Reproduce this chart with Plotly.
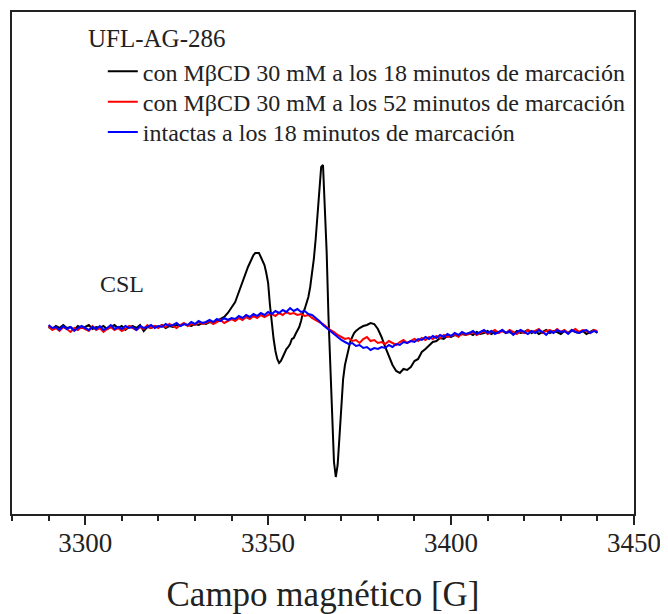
import plotly.graph_objects as go

# ---- data (arbitrary intensity units) ----
series_names = [
    "con MβCD 30 mM a los 18 minutos de marcación",
    "con MβCD 30 mM a los 52 minutos de marcación",
    "intactas a los 18 minutos de marcación",
]

black_field = [
    3290, 3291, 3292, 3293, 3294, 3295, 3296, 3297, 3298, 3299,
    3300, 3301, 3302, 3303, 3304, 3305, 3306, 3307, 3308, 3309,
    3310, 3311, 3312, 3313, 3314, 3315, 3316, 3317, 3318, 3319,
    3320, 3321, 3322, 3323, 3324, 3325, 3326, 3327, 3328, 3329,
    3330, 3331, 3332, 3333, 3334, 3335, 3336, 3337, 3338, 3339,
    3340, 3340.5, 3341, 3341.5, 3342, 3342.5, 3343, 3343.5, 3344, 3344.5,
    3345, 3345.5, 3346, 3346.5, 3347, 3347.5, 3348, 3348.5, 3349, 3349.5,
    3350, 3350.5, 3351, 3351.5, 3352, 3352.5, 3353, 3353.5, 3354, 3354.5,
    3355, 3355.5, 3356, 3356.5, 3357, 3357.5, 3358, 3358.5, 3359, 3359.5,
    3360, 3360.5, 3361, 3361.5, 3362, 3362.5, 3363, 3363.5, 3364, 3364.5,
    3365, 3365.5, 3366, 3366.5, 3367, 3367.5, 3368, 3368.5, 3369, 3369.5,
    3370, 3370.5, 3371, 3371.5, 3372, 3372.5, 3373, 3373.5, 3374, 3375,
    3376, 3377, 3378, 3379, 3380, 3381, 3382, 3383, 3384, 3385,
    3386, 3387, 3388, 3389, 3390, 3391, 3392, 3393, 3394, 3395,
    3396, 3397, 3398, 3399, 3400, 3401, 3402, 3403, 3404, 3405,
    3406, 3407, 3408, 3409, 3410, 3411, 3412, 3413, 3414, 3415,
    3416, 3417, 3418, 3419, 3420, 3421, 3422, 3423, 3424, 3425,
    3426, 3427, 3428, 3429, 3430, 3431, 3432, 3433, 3434, 3435,
    3436, 3437, 3438, 3439, 3440,
]
black_signal = [
    0, -2, 1, -1, 2, -1, 0, -3, 1, -1,
    0, 2, -2, 0, -1, 1, -2, 0, 2, -1,
    1, -3, 0, 1, -1, 2, -4, 0, -1, 1,
    0, 2, -1, 1, 0, 2, 1, 3, 2, 1,
    3, 2, 4, 3, 5, 4, 6, 8, 10, 14,
    20, 22, 25, 30, 35, 40, 46, 52, 56, 60,
    64, 68, 72, 74, 74, 74, 70, 66, 62, 54,
    44, 22, 4, -12, -24, -32, -36, -34, -30, -26,
    -22, -20, -17, -12, -11, -7, -4, 0, 6, 14,
    18, 23, 30, 40, 52, 68, 88, 112, 138, 160,
    162, 125, 75, 10, -40, -90, -135, -150, -138, -110,
    -78, -52, -38, -30, -20, -14, -10, -6, -4, -1,
    1, 2, 4, 3, -2, -10, -20, -30, -38, -44,
    -46, -42, -43, -40, -34, -32, -25, -22, -18, -15,
    -14, -11, -12, -9, -10, -8, -9, -7, -8, -6,
    -8, -5, -7, -6, -4, -7, -5, -6, -3, -6,
    -5, -7, -4, -6, -5, -3, -6, -4, -7, -5,
    -3, -6, -4, -5, -7, -4, -6, -3, -5, -6,
    -4, -7, -5, -3, -6,
]

field = list(range(3290, 3441))
red_signal = [
    1, -3, -1, -4, 0, -2, -5, -1, -3, 0,
    -2, -4, 1, -3, -1, -5, -2, 0, -3, -1,
    -4, -2, 1, -1, -3, 0, -2, 2, -1, 1,
    -1, 2, 0, 3, 1, -1, 2, 4, 1, 3,
    2, 5, 3, 4, 6, 3, 5, 7, 4, 6,
    8, 6, 9, 7, 10, 8, 11, 9, 12, 10,
    12, 13, 11, 14, 12, 15, 13, 14, 12, 13,
    11, 12, 9, 7, 5, 3, 0, -3, -5, -8,
    -10, -12, -11, -14, -13, -16, -12, -10, -14, -13,
    -16, -15, -17, -14, -16, -18, -15, -13, -16, -14,
    -12, -14, -11, -13, -10, -12, -9, -11, -8, -10,
    -9, -7, -10, -6, -8, -7, -5, -8, -6, -4,
    -7, -5, -3, -6, -4, -6, -3, -5, -7, -4,
    -6, -3, -5, -4, -2, -6, -4, -3, -5, -2,
    -5, -3, -6, -4, -2, -5, -3, -4, -6, -3, -4,
]
blue_signal = [
    2, -1, 0, -3, 1, -2, 0, -4, -1, 1,
    -1, -3, 0, -2, 1, -3, -1, 2, -2, 0,
    -2, 1, -1, 0, -3, 1, -1, 0, 2, -1,
    1, 0, 3, 1, 2, 4, 1, 3, 2, 5,
    3, 6, 4, 5, 7, 5, 8, 6, 9, 7,
    9, 8, 11, 9, 12, 10, 13, 11, 14, 12,
    15, 13, 16, 14, 17, 15, 19, 16, 18, 15,
    16, 13, 12, 9, 6, 2, -1, -4, -7, -10,
    -13, -15, -17, -16, -19, -18, -21, -20, -23, -21,
    -22, -20, -21, -18, -20, -17, -18, -15, -16, -14,
    -15, -12, -13, -10, -12, -9, -11, -8, -10, -7,
    -9, -6, -8, -5, -7, -6, -4, -7, -5, -3,
    -6, -4, -7, -5, -3, -6, -4, -8, -5, -3,
    -5, -7, -4, -6, -3, -5, -8, -4, -6, -3,
    -5, -4, -7, -3, -5, -6, -4, -3, -6, -4, -5,
]

x_tick_values = [3300, 3350, 3400, 3450]
x_tick_labels = ["3300", "3350", "3400", "3450"]
x_range = [3280, 3450]
y_range = [-187, 315]

FONT = "Liberation Serif, DejaVu Serif, Noto Serif, Times New Roman, serif"

fig = go.Figure()
fig.add_trace(go.Scatter(x=black_field, y=black_signal, mode="lines", legend="legend",
                         name=series_names[0], line=dict(color="#000000", width=2)))
fig.add_trace(go.Scatter(x=field, y=red_signal, mode="lines", legend="legend2",
                         name=series_names[1], line=dict(color="#ff0000", width=2)))
fig.add_trace(go.Scatter(x=field, y=blue_signal, mode="lines", legend="legend3",
                         name=series_names[2], line=dict(color="#0000ff", width=2)))

legend_style = dict(x=0.146, xanchor="left", yanchor="top",
                    bgcolor="rgba(0,0,0,0)", borderwidth=0,
                    font=dict(family=FONT, size=24, color="#222222"))

# The page body has an 8px default margin; the figure is sized to compensate.
fig.update_layout(
    width=660, height=606,
    margin=dict(l=4, r=34, t=4, b=100, autoexpand=False),
    paper_bgcolor="white", plot_bgcolor="white",
    font=dict(family=FONT, color="#222222"),
    showlegend=True,
    legend=dict(y=0.926, **legend_style),
    legend2=dict(y=0.865, **legend_style),
    legend3=dict(y=0.805, **legend_style),
    annotations=[
        dict(text="UFL-AG-286", xref="paper", yref="paper", x=0.119, y=0.948,
             xanchor="left", yanchor="middle", showarrow=False,
             font=dict(family=FONT, size=25, color="#222222")),
        dict(text="CSL", xref="x", yref="y", x=3310.1, y=43,
             xanchor="center", yanchor="middle", showarrow=False,
             font=dict(family=FONT, size=24, color="#222222")),
    ],
)

fig.update_xaxes(
    automargin=False,
    range=x_range, tickmode="array", tickvals=x_tick_values, ticktext=x_tick_labels,
    ticks="outside", ticklen=9, tickwidth=2, tickcolor="#222222",
    ticklabelstandoff=-5,
    minor=dict(dtick=10, tick0=3280, ticks="outside", ticklen=5, tickwidth=2, tickcolor="#222222"),
    showline=True, linewidth=2, linecolor="#222222", mirror=True,
    showgrid=False, zeroline=False,
    tickfont=dict(family=FONT, size=27, color="#222222"),
    title=dict(text="Campo magnético [G]", font=dict(family=FONT, size=35, color="#222222"),
               standoff=25),
)
fig.update_yaxes(
    automargin=False,
    range=y_range, showticklabels=False, ticks="",
    showline=True, linewidth=2, linecolor="#222222", mirror=True,
    showgrid=False, zeroline=False,
)

fig.write_html("out.html")
